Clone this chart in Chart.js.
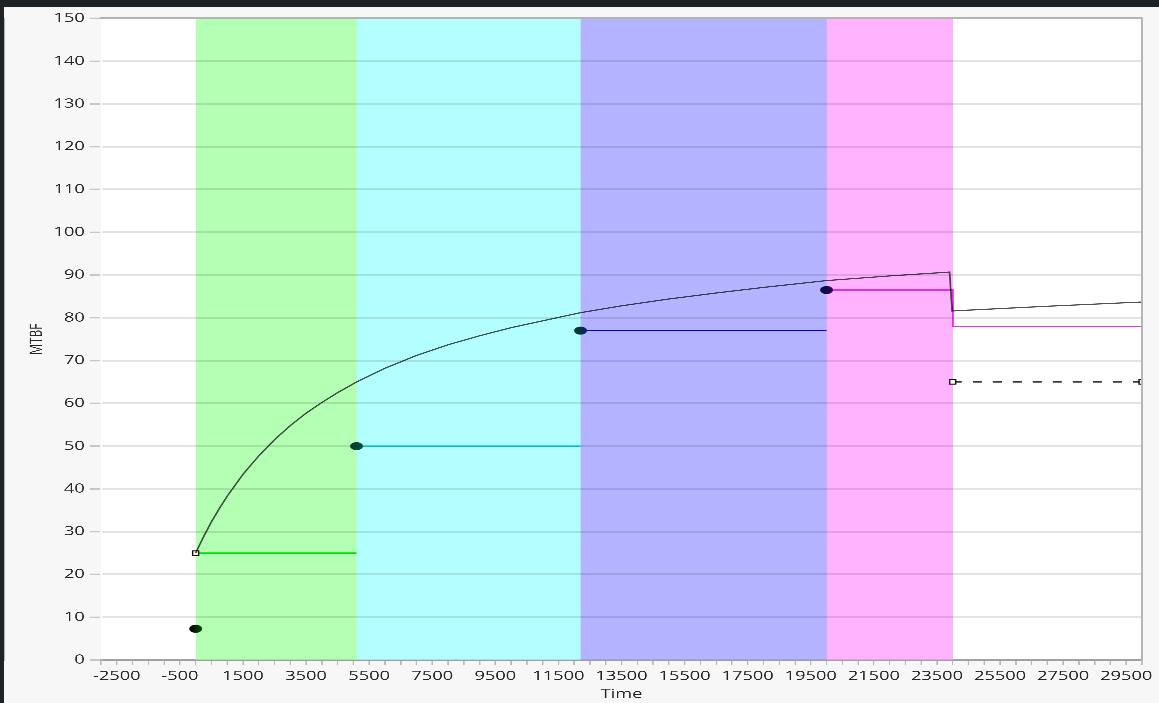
<!DOCTYPE html>
<html>
<head>
<meta charset="utf-8">
<title>MTBF growth by phase</title>
<script src="https://cdn.jsdelivr.net/npm/chart.js@4.4.0/dist/chart.umd.min.js"></script>
<style>
  html, body { margin: 0; padding: 0; width: 1159px; height: 703px; overflow: hidden; background: #1d2227; }
  #panel { position: absolute; left: 4px; top: 7px; width: 1155px; height: 696px; background: #f7f7f7; overflow: hidden; }
  #stretch { position: absolute; left: 0; top: 0; width: 825px; height: 696px; transform: scaleX(1.4); transform-origin: 0 0; }
  canvas { display: block; }
</style>
</head>
<body>
<div id="panel"><div id="stretch"><canvas id="chart" width="825" height="696"></canvas></div></div>
<script>
// Test phase boundaries (time) and their shading
const phaseBounds = [0, 5100, 12200, 20000, 24000];
const phaseShades = ['rgb(179,255,179)', 'rgb(179,255,255)', 'rgb(179,179,255)', 'rgb(255,179,255)'];

// Overall MTBF growth curve
const growthTime = [0, 250, 500, 750, 1000, 1500, 2000, 2500, 3000, 3500, 4000, 4500, 5100, 6000, 7000, 8000, 9000, 10000, 11000, 12200, 13500, 15000, 16500, 18000, 20000, 22000, 23900, 23980, 27000, 30000];
const growthMTBF = [25, 28.8, 32.3, 35.4, 38.3, 43.4, 47.7, 51.5, 54.8, 57.7, 60.2, 62.5, 65.0, 68.2, 71.2, 73.7, 75.8, 77.7, 79.3, 81.2, 82.8, 84.4, 85.8, 87.1, 88.7, 89.8, 90.7, 81.6, 82.7, 83.7];

// Demonstrated MTBF per phase
const phase1Time = [0, 5100];
const phase1MTBF = [25, 25];
const phase2Time = [5100, 12200];
const phase2MTBF = [50, 50];
const phase3Time = [12200, 20000];
const phase3MTBF = [77, 77];
const phase4Time = [20000, 24000, 24000, 30000];
const phase4MTBF = [86.5, 86.5, 78, 78];

// Initial MTBF and goal line
const initialTime = [0];
const initialMTBF = [7.3];
const goalTime = [24000, 30000];
const goalMTBF = [65, 65];

// Axis ranges and ticks
const xMin = -3000, xMax = 30000, xStep = 500, xLabelStart = -2500, xLabelEvery = 2000;
const yMin = 0, yMax = 150, yStep = 10;

const FONT = '"Open Sans", "Noto Sans", sans-serif';
const TEXT = '#262626';

const pts = (xs, ys) => xs.map((x, i) => ({ x, y: ys[i] }));

function dotSprite(c0, c1) {
  const S = 3;
  const cv = document.createElement('canvas');
  cv.width = 10 * S; cv.height = 9 * S;
  const g = cv.getContext('2d');
  const gr = g.createLinearGradient(0, 0, 10 * S, 0);
  gr.addColorStop(0, c0);
  gr.addColorStop(1, c1);
  g.fillStyle = gr;
  g.beginPath();
  g.ellipse(5 * S, 4.5 * S, 4.6 * S, 4.0 * S, 0, 0, Math.PI * 2);
  g.fill();
  const out = new Image();
  out.width = 10; out.height = 9;
  out.src = cv.toDataURL();
  return out;
}

const plotBackground = {
  id: 'plotBackground',
  beforeDraw(chart) {
    const { ctx, chartArea: a } = chart;
    ctx.save();
    ctx.fillStyle = '#ffffff';
    ctx.fillRect(a.left, a.top, a.right - a.left, a.bottom - a.top);
    ctx.restore();
  }
};

// Each phase shade runs from its start to the end of the last phase; later
// phases are painted over earlier ones so neighbouring shades meet cleanly.
const lastBound = phaseBounds[phaseBounds.length - 1];
const bands = phaseShades.map((c, i) => ({
  data: pts([phaseBounds[i], lastBound], [yMax, yMax]),
  fill: 'origin', backgroundColor: c, borderWidth: 0, pointRadius: 0, order: 20 - i,
  xAxisID: 'x', yAxisID: 'y'
}));

function stepLine(xs, ys, color, sprite) {
  return {
    data: pts(xs, ys), borderColor: color, borderWidth: 1.3,
    pointStyle: xs.map((_, i) => i === 0 ? sprite : 'circle'),
    pointRadius: xs.map((_, i) => i === 0 ? 4 : 0),
    pointBorderWidth: 0, order: 2, xAxisID: 'x', yAxisID: 'y'
  };
}

const sprites = [
  dotSprite('#000000', '#024a02'),
  dotSprite('#02402a', '#045048'),
  dotSprite('#033a3e', '#0a2c52'),
  dotSprite('#0a0c48', '#2a0c50')
];

const datasets = [
  ...bands,
  {
    data: pts(phase1Time, phase1MTBF), borderColor: '#00dd00', borderWidth: 1.3,
    pointStyle: 'rect', pointRadius: [3, 0], pointBorderColor: '#111', pointBorderWidth: 1,
    pointBackgroundColor: '#ffffff', order: 1, xAxisID: 'x', yAxisID: 'y'
  },
  stepLine(phase2Time, phase2MTBF, '#00d8d8', sprites[1]),
  stepLine(phase3Time, phase3MTBF, '#0000e6', sprites[2]),
  stepLine(phase4Time, phase4MTBF, '#e030e8', sprites[3]),
  {
    data: pts(initialTime, initialMTBF), showLine: false,
    pointStyle: sprites[0], pointRadius: 4, order: 2,
    xAxisID: 'x', yAxisID: 'y'
  },
  {
    data: pts(goalTime, goalMTBF), borderColor: '#3a3a3a', borderWidth: 1.3, borderDash: [6.4, 7.9],
    pointStyle: 'rect', pointRadius: 3, pointBorderColor: '#111', pointBorderWidth: 1,
    pointBackgroundColor: '#ffffff', clip: 0, order: 1, xAxisID: 'x', yAxisID: 'y'
  },
  {
    data: pts(growthTime, growthMTBF), borderColor: 'rgba(0,0,0,0.68)', borderWidth: 1.2,
    pointRadius: 0, tension: 0, order: 0, xAxisID: 'x', yAxisID: 'y'
  }
];

function build() {
  new Chart(document.getElementById('chart'), {
    type: 'line',
    data: { datasets },
    plugins: [plotBackground],
    options: {
      responsive: false,
      animation: false,
      devicePixelRatio: 3,
      events: [],
      layout: { padding: { left: 0, top: 10, right: 825 - 1138 / 1.4, bottom: 0 } },
      plugins: { legend: { display: false }, tooltip: { enabled: false } },
      scales: {
        x: {
          type: 'linear', position: 'bottom', min: xMin, max: xMax,
          ticks: {
            stepSize: xStep, autoSkip: false, maxRotation: 0, minRotation: 0, maxTicksLimit: 200,
            padding: 3.5, color: TEXT, font: { family: FONT, size: 13 },
            callback: (v) => Math.abs((v - xLabelStart) % xLabelEvery) < 1e-6 ? String(v) : ''
          },
          grid: { drawOnChartArea: false, drawTicks: true, tickLength: 5, color: '#b8b8b8', lineWidth: 1 },
          border: { display: true, color: '#b4b4b4', width: 2 },
          title: { display: true, text: 'Time', color: TEXT, font: { family: FONT, size: 13 }, padding: { top: 0, bottom: 1 } },
          afterFit: (s) => { s.height = 43; }
        },
        y: {
          type: 'linear', position: 'left', min: yMin, max: yMax,
          ticks: { stepSize: yStep, maxTicksLimit: 100, padding: 3.6, color: TEXT, font: { family: FONT, size: 13 } },
          grid: { color: 'rgba(0,0,0,0.11)', lineWidth: 2, tickLength: 8, tickColor: '#c6c6c6', tickWidth: 1.5, z: 1 },
          border: { display: true, color: '#b4b4b4', width: 1.5 },
          title: { display: true, text: 'MTBF', color: TEXT, font: { family: FONT, size: 12 }, padding: { top: 16.5, bottom: 0 } },
          afterFit: (s) => { s.width = 97 / 1.4; }
        },
        xTop: {
          type: 'linear', position: 'top', min: xMin, max: xMax,
          ticks: { display: false }, grid: { display: false },
          border: { display: true, color: '#b4b4b4', width: 2, z: 2 },
          afterFit: (s) => { s.height = 0; }
        },
        yRight: {
          type: 'linear', position: 'right', min: yMin, max: yMax,
          ticks: { display: false }, grid: { display: false },
          border: { display: true, color: '#b4b4b4', width: 1.5, z: 2 },
          afterFit: (s) => { s.width = 0; }
        }
      }
    }
  });
}

Promise.all(sprites.map((im) => im.decode ? im.decode().catch(() => {}) : Promise.resolve())).then(build);
</script>
</body>
</html>
